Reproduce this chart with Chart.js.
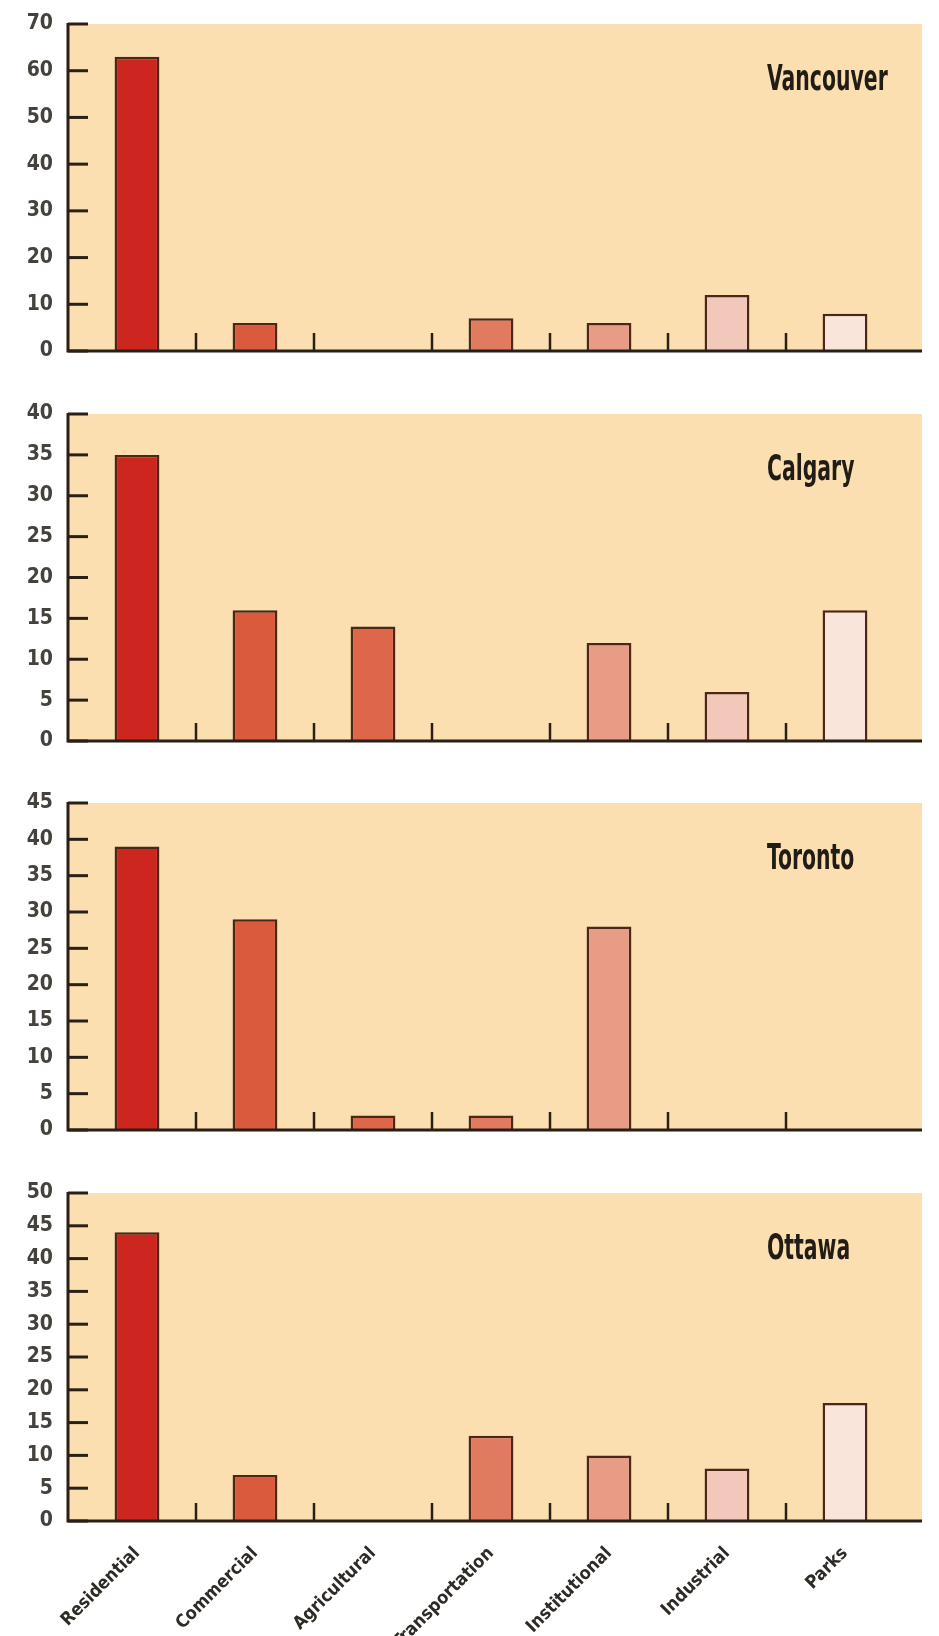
<!DOCTYPE html>
<html>
<head>
<meta charset="utf-8">
<script src="https://cdn.jsdelivr.net/npm/chart.js@4.4.1/dist/chart.umd.min.js"></script>
<style>
  html, body { margin: 0; padding: 0; background: #fff; }
  body { width: 939px; height: 1636px; position: relative; overflow: hidden; }
  .panel { position: absolute; left: 0; }
</style>
</head>
<body>
<script>
// data
const categories = ["Residential", "Commercial", "Agricultural", "Transportation", "Institutional", "Industrial", "Parks"];
const cities = ["Vancouver", "Calgary", "Toronto", "Ottawa"];
const vancouver = [63, 6, 0, 7, 6, 12, 8];
const calgary = [35, 16, 14, 0, 12, 6, 16];
const toronto = [39, 29, 2, 2, 28, 0, 0];
const ottawa = [44, 7, 0, 13, 10, 8, 18];
const yMax = [70, 40, 45, 50];
const yStep = [10, 5, 5, 5];
const barColors = ["#cd261f", "#d95a3d", "#de674b", "#e07b60", "#e89c85", "#f1c8ba", "#f9e5da"];

const series = [vancouver, calgary, toronto, ottawa];

// layout (page pixels)
const panelTop = [24, 414, 803, 1193];
const panelHeight = [327, 327, 327, 328];
const FONT = "'Liberation Sans Narrow', 'DejaVu Sans Condensed', 'Open Sans', sans-serif";

Chart.defaults.font.family = FONT;

const frame = {
  id: "frame",
  beforeDatasetsDraw(chart, args, opts) {
    const { ctx, chartArea: a } = chart;
    ctx.save();
    ctx.fillStyle = opts.fill;
    const left = a.left - opts.inset;
    ctx.fillRect(left, a.top, a.right + opts.extend - left, a.bottom - a.top);
    ctx.restore();
  },
  afterDatasetsDraw(chart, args, opts) {
    const { ctx, chartArea: a, scales: { x, y } } = chart;
    const left = a.left - opts.inset;
    ctx.save();
    ctx.strokeStyle = opts.axis;
    ctx.lineCap = "butt";

    // y tick marks pointing inward
    ctx.lineWidth = 3;
    y.ticks.forEach(t => {
      const py = y.getPixelForValue(t.value);
      ctx.beginPath();
      ctx.moveTo(left, py);
      ctx.lineTo(left + 20, py);
      ctx.stroke();
    });

    // separators between categories
    ctx.lineWidth = 2.5;
    for (let i = 0; i < categories.length - 1; i++) {
      const px = (x.getPixelForValue(i) + x.getPixelForValue(i + 1)) / 2;
      ctx.beginPath();
      ctx.moveTo(px, a.bottom);
      ctx.lineTo(px, a.bottom - 18);
      ctx.stroke();
    }

    // axis lines
    ctx.lineWidth = 3;
    ctx.beginPath();
    ctx.moveTo(left, a.top - 1);
    ctx.lineTo(left, a.bottom);
    ctx.lineTo(a.right + opts.extend, a.bottom);
    ctx.stroke();

    // city name
    ctx.fillStyle = "#221c16";
    ctx.font = "bold 36px " + FONT;
    ctx.textAlign = "left";
    ctx.textBaseline = "alphabetic";
    ctx.translate(a.right - 137, a.top + 66);
    ctx.scale(0.63, 1);
    ctx.fillText(opts.title, 0, 0);
    ctx.restore();
  }
};

series.forEach((vals, i) => {
  const last = i === series.length - 1;
  const div = document.createElement("div");
  div.className = "panel";
  const top = panelTop[i] - 20;
  const h = last ? 1636 - top : 20 + panelHeight[i] + 15;
  div.style.top = top + "px";
  const canvas = document.createElement("canvas");
  canvas.width = 939;
  canvas.height = h;
  canvas.style.width = "939px";
  canvas.style.height = h + "px";
  div.appendChild(canvas);
  document.body.appendChild(div);

  new Chart(canvas, {
    type: "bar",
    data: {
      labels: categories,
      datasets: [{
        data: vals,
        backgroundColor: barColors,
        borderColor: "#4a2718",
        borderWidth: 2.5,
        barPercentage: 0.38,
        categoryPercentage: 1
      }]
    },
    options: {
      responsive: false,
      animation: false,
      devicePixelRatio: 1,
      layout: { padding: { left: 0, right: 35, top: 20, bottom: last ? 0 : 15 } },
      plugins: {
        legend: { display: false },
        tooltip: { enabled: false },
        frame: { fill: "#fcdfb0", axis: "#2a1f16", inset: 10, extend: 18, title: cities[i] }
      },
      scales: {
        x: {
          display: last,
          offset: true,
          grid: { display: false, drawTicks: false },
          border: { display: false },
          ticks: {
            autoSkip: false,
            minRotation: 45,
            maxRotation: 45,
            padding: 22,
            color: "#2e2a26",
            font: { size: 18, weight: "bold" }
          },
          afterFit(s) {
            s.height = last ? 115 : 0;
            s.paddingLeft = 0;
            s.paddingRight = 0;
          }
        },
        y: {
          min: 0,
          max: yMax[i],
          grid: { display: false, drawTicks: false },
          border: { display: false },
          ticks: {
            autoSkip: false,
            stepSize: yStep[i],
            padding: 25,
            color: "#45413c",
            font: { size: 21, weight: "bold" }
          },
          afterFit(s) {
            s.width = 78;
            s.paddingTop = 0;
            s.paddingBottom = 0;
          }
        }
      }
    },
    plugins: [frame]
  });
});
</script>
</body>
</html>
